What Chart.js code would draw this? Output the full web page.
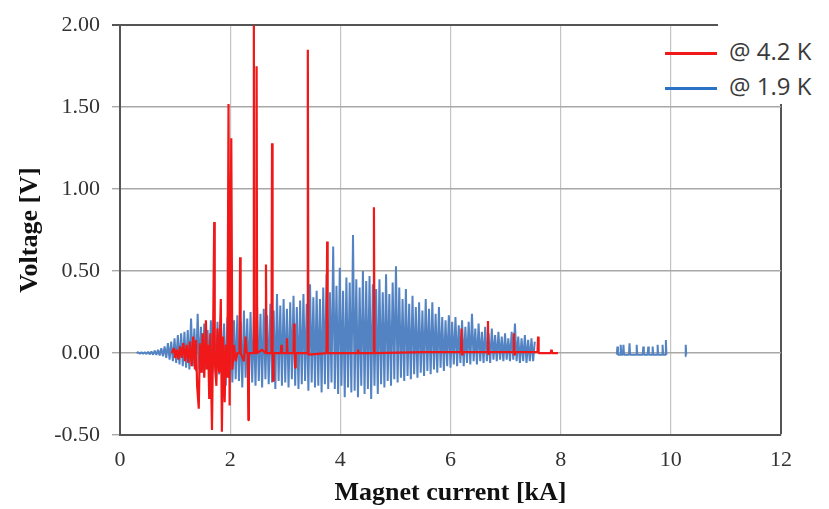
<!DOCTYPE html>
<html>

<head>
  <meta charset="utf-8">
  <title>Magnet voltage vs current</title>
  <style>
    body {
      margin: 0;
      background: #ffffff;
    }

    .wrap {
      position: relative;
      width: 829px;
      height: 509px;
    }

    .legend-swatch {
      position: absolute;
      left: 665px;
      width: 52px;
      height: 3px;
    }

    .legend-box {
      position: absolute;
      left: 718px;
      top: 24px;
      width: 111px;
      height: 80px;
      background: #ffffff;
    }

    .legend-text {
      position: absolute;
      left: 11px;
      font-family: "Open Sans", "Noto Sans", sans-serif;
      font-size: 24px;
      line-height: 1;
      color: #3a3a3a;
      white-space: nowrap;
    }
  </style>
</head>

<body>
  <div class="wrap">
    <canvas id="myChart" width="829" height="509"></canvas>
    <div class="legend-swatch" style="top:52px;background:#f01818;"></div>
    <div class="legend-swatch" style="top:87px;background:#2a72c5;"></div>
    <div class="legend-box">
      <div class="legend-text" style="top:15px;">@ 4.2 K</div>
      <div class="legend-text" style="top:50px;">@ 1.9 K</div>
    </div>
  </div>

  <script src="https://cdn.jsdelivr.net/npm/chart.js"></script>

  <script>

    // 軸設定
    const xTicks = [0, 2, 4, 6, 8, 10, 12];
    const yTicks = [-0.5, 0, 0.5, 1.0, 1.5, 2.0];

    // 4.2 K 資料 (電流 kA, 電壓 V)
    const redX = [
      0.94, 0.98, 1.00, 1.03, 1.06, 1.09, 1.12, 1.15, 1.18, 1.21,
      1.24, 1.27, 1.30, 1.33, 1.36, 1.38, 1.40, 1.43, 1.45, 1.48,
      1.50, 1.53, 1.56, 1.58, 1.60, 1.62, 1.64, 1.67, 1.69, 1.71,
      1.72, 1.75, 1.77, 1.80, 1.83, 1.85, 1.87, 1.90, 1.92, 1.95,
      1.97, 1.99, 2.02, 2.04, 2.07, 2.10, 2.13, 2.17, 2.18, 2.19,
      2.25, 2.28, 2.30, 2.32, 2.33, 2.34, 2.42, 2.43, 2.44, 2.47,
      2.48, 2.49, 2.58, 2.64, 2.65, 2.66, 2.75, 2.76, 2.77, 2.78,
      2.79, 2.92, 2.93, 2.94, 3.02, 3.03, 3.04, 3.15, 3.16, 3.17,
      3.18, 3.19, 3.40, 3.41, 3.42, 3.75, 3.76, 3.77, 4.31, 4.32,
      4.33, 4.60, 4.61, 4.62, 5.50, 6.19, 6.20, 6.21, 6.22, 6.67,
      6.68, 6.69, 6.70, 7.14, 7.15, 7.16, 7.17, 7.58, 7.59, 7.60,
      7.82, 7.83, 7.84, 7.95
    ];
    const redY = [
      0.00, 0.03, -0.03, 0.02, -0.04, 0.04, -0.03, 0.06, -0.05, 0.05,
      -0.06, 0.07, -0.08, 0.10, -0.10, 0.08, -0.20, -0.34, 0.06, -0.12,
      0.12, -0.15, 0.20, -0.10, 0.05, -0.28, 0.12, -0.47, 0.10, 0.80,
      -0.05, -0.20, 0.15, -0.12, 0.33, -0.48, 0.10, -0.30, 0.05, -0.15,
      1.52, -0.32, 1.31, -0.10, 0.05, -0.05, 0.00, 0.00, 0.585, 0.00,
      -0.05, 0.10, 0.00, 0.00, -0.41, 0.00, 0.00, 2.00, 0.00, 0.00,
      1.75, 0.00, 0.02, 0.00, 0.54, 0.00, 0.00, 1.28, 0.00, -0.17,
      0.00, 0.00, 0.05, 0.00, 0.00, 0.09, 0.00, 0.00, 0.18, 0.00,
      -0.09, 0.00, 0.00, 1.85, -0.01, 0.00, 0.68, 0.00, 0.00, 0.02,
      0.00, 0.00, 0.89, 0.00, 0.005, 0.005, 0.15, -0.01, 0.005, 0.005,
      0.195, -0.01, 0.005, 0.005, 0.12, -0.01, 0.005, 0.005, 0.10, 0.00,
      0.00, 0.02, 0.00, 0.00
    ];

    // 1.9 K 資料：0.30 kA 起每 0.03 kA 一筆
    const blueStart = 0.30;
    const blueStep = 0.03;
    const blueY = [
      0.00, 0.005, -0.005, 0.005, -0.005, 0.006, -0.006, 0.008, -0.008, 0.01,
      -0.01, 0.015, -0.012, 0.02, -0.015, 0.03, -0.02, 0.04, -0.03, 0.06,
      -0.04, 0.07, -0.05, 0.09, -0.06, 0.11, -0.07, 0.12, -0.08, 0.13,
      -0.09, 0.14, -0.10, 0.21, -0.08, 0.15, -0.11, 0.24, -0.10, 0.16,
      -0.12, 0.18, -0.10, 0.14, -0.14, 0.20, -0.12, 0.17, -0.15, 0.19,
      -0.13, 0.21, -0.16, 0.18, -0.20, 0.22, -0.15, 0.17, -0.18, 0.20,
      -0.16, 0.23, -0.17, 0.19, -0.21, 0.26, -0.15, 0.21, -0.19, 0.25,
      -0.18, 0.22, -0.20, 0.28, -0.17, 0.24, -0.21, 0.27, -0.16, 0.23,
      -0.19, 0.30, -0.18, 0.26, -0.22, 0.36, -0.17, 0.29, -0.20, 0.33,
      -0.18, 0.27, -0.21, 0.31, -0.16, 0.35, -0.20, 0.28, -0.22, 0.32,
      -0.19, 0.36, -0.17, 0.30, -0.23, 0.42, -0.18, 0.34, -0.21, 0.38,
      -0.20, 0.33, -0.24, 0.40, -0.19, 0.48, -0.22, 0.37, -0.18, 0.65,
      -0.22, 0.41, -0.25, 0.52, -0.20, 0.38, -0.27, 0.46, -0.21, 0.43,
      -0.24, 0.72, -0.23, 0.45, -0.27, 0.40, -0.20, 0.50, -0.25, 0.44,
      -0.22, 0.47, -0.28, 0.42, -0.20, 0.39, -0.25, 0.45, -0.19, 0.37,
      -0.21, 0.48, -0.17, 0.36, -0.20, 0.43, -0.16, 0.53, -0.18, 0.40,
      -0.15, 0.33, -0.17, 0.39, -0.14, 0.30, -0.16, 0.35, -0.13, 0.28,
      -0.15, 0.31, -0.12, 0.26, -0.14, 0.33, -0.11, 0.27, -0.13, 0.31,
      -0.10, 0.24, -0.12, 0.28, -0.09, 0.22, -0.11, 0.20, -0.08, 0.23,
      -0.09, 0.19, -0.07, 0.22, -0.08, 0.17, -0.06, 0.20, -0.08, 0.16,
      -0.06, 0.19, -0.07, 0.24, -0.05, 0.15, -0.07, 0.18, -0.05, 0.13,
      -0.06, 0.16, -0.05, 0.12, -0.06, 0.15, -0.04, 0.11, -0.05, 0.13,
      -0.04, 0.10, -0.05, 0.12, -0.04, 0.09, -0.05, 0.13, -0.04, 0.18,
      -0.05, 0.10, -0.06, 0.09, -0.05, 0.11, -0.06, 0.08, -0.05, 0.09,
      -0.05, 0.07
    ];

    // 1.9 K 高電流段 (9~10.3 kA)
    const tailX = [
      9.02, 9.03, 9.04, 9.08, 9.09, 9.10, 9.13, 9.14, 9.15, 9.24,
      9.25, 9.26, 9.37, 9.38, 9.39, 9.49, 9.50, 9.51, 9.58, 9.59,
      9.60, 9.66, 9.67, 9.68, 9.75, 9.76, 9.77, 9.84, 9.85, 9.86,
      9.90, 9.91, 9.92, 10.00, 10.26, 10.27, 10.28
    ];
    const tailY = [
      -0.01, 0.04, -0.01, -0.01, 0.05, -0.01, -0.01, 0.05, -0.01, -0.01,
      0.06, -0.01, -0.01, 0.05, -0.01, -0.01, 0.04, -0.01, -0.01, 0.04,
      -0.01, -0.01, 0.04, -0.01, -0.01, 0.05, -0.01, -0.01, 0.05, -0.01,
      -0.01, 0.08, -0.01, null, -0.02, 0.05, -0.01
    ];

    // 組合成 {x, y}
    const redPoints = redX.map((x, i) => ({ x: x, y: redY[i] }));
    const bluePoints = blueY.map((y, i) => ({ x: blueStart + i * blueStep, y: y }));
    bluePoints.push({ x: 8.5, y: null });
    tailX.forEach((x, i) => bluePoints.push({ x: x, y: tailY[i] }));

    const edgeColor = '#555555';

    const data = {
      datasets: [{
        label: '@ 4.2 K',
        borderColor: '#f01818',
        backgroundColor: '#f01818',
        borderWidth: 2.2,
        borderJoinStyle: 'bevel',
        pointRadius: 0,
        data: redPoints,
      }, {
        label: '@ 1.9 K',
        borderColor: '#5383c2',
        backgroundColor: '#5383c2',
        borderWidth: 2,
        borderJoinStyle: 'bevel',
        pointRadius: 0,
        data: bluePoints,
      }]
    };

    const config = {
      type: 'line',
      data: data,
      options: {
        responsive: false,
        animation: false,
        spanGaps: false,
        layout: {
          padding: { top: 18, right: 48, left: 0, bottom: 0 }
        },
        plugins: {
          legend: { display: false },
          tooltip: { enabled: false }
        },
        scales: {
          x: {
            type: 'linear',
            min: 0,
            max: 12,
            afterBuildTicks: (scale) => {
              scale.ticks = xTicks.map(v => ({ value: v }));
            },
            afterFit: (scale) => { scale.height = 74; },
            grid: {
              color: (c) => c.tick && c.tick.value === 12 ? edgeColor : '#c4c4c4',
              lineWidth: (c) => c.tick && c.tick.value === 12 ? 2 : 1.2,
              drawTicks: false,
            },
            border: { color: edgeColor, width: 2 },
            ticks: {
              color: '#333333',
              padding: 12,
              maxRotation: 0,
              font: { family: 'Liberation Serif', size: 22 },
            },
            title: {
              display: true,
              text: 'Magnet current [kA]',
              color: '#111111',
              padding: { top: 0, bottom: 0 },
              font: { family: 'Liberation Serif', size: 26, weight: 'bold' },
            }
          },
          y: {
            min: -0.5,
            max: 2.0,
            afterBuildTicks: (scale) => {
              scale.ticks = yTicks.map(v => ({ value: v }));
            },
            afterFit: (scale) => { scale.width = 120; },
            grid: {
              color: (c) => c.tick && c.tick.value === 2 ? edgeColor : '#a8a8a8',
              lineWidth: (c) => c.tick && c.tick.value === 2 ? 2 : 1.4,
              tickLength: 8,
            },
            border: { color: edgeColor, width: 2 },
            ticks: {
              color: '#333333',
              padding: 12,
              font: { family: 'Liberation Serif', size: 22 },
              callback: (v) => Number(v).toFixed(2),
            },
            title: {
              display: true,
              text: 'Voltage [V]',
              color: '#111111',
              padding: { top: 15, bottom: 0 },
              font: { family: 'Liberation Serif', size: 26, weight: 'bold' },
            }
          }
        }
      }
    };

    var ctx = document.getElementById('myChart').getContext('2d');
    var myChart = new Chart(ctx, config);

  </script>

</body>

</html>
